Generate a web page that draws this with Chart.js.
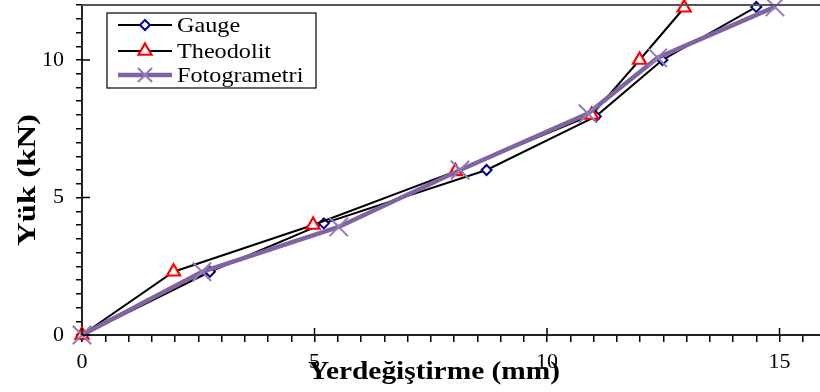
<!DOCTYPE html>
<html>
<head>
<meta charset="utf-8">
<script src="https://cdn.jsdelivr.net/npm/chart.js@4/dist/chart.umd.min.js"></script>
<style>
html,body{margin:0;padding:0;background:#fff;overflow:hidden;}
#c{display:block;}
</style>
</head>
<body>
<canvas id="c" width="820" height="392"></canvas>
<script>
const seriesNames = ['Gauge', 'Theodolit', 'Fotogrametri'];
const gaugeX = [0, 2.75, 5.2, 8.7, 11.05, 12.48, 14.5];
const gaugeY = [0, 2.3, 4.06, 6.0, 7.95, 10.0, 11.93];
const theoX = [0, 1.97, 4.97, 8.03, 10.96, 11.99, 12.95];
const theoY = [0, 2.3, 4.0, 5.95, 8.0, 10.0, 11.9];
const fotoX = [0, 2.58, 5.52, 8.13, 10.88, 12.38, 14.9];
const fotoY = [0, 2.3, 3.93, 6.0, 8.05, 10.08, 11.93];
const xTitle = 'Yerdeğiştirme (mm)';
const yTitle = 'Yük (kN)';
const xMajor = [0, 5, 10, 15];
const yMajor = [0, 5, 10];

function pts(xs, ys){ return xs.map((x,i)=>({x:x, y:ys[i]})); }

const SERIF = '"Liberation Serif", "Times New Roman", serif';

const styles = [
  {line:'#000', lw:2, ps:'rectRot', r:5, pc:'#00008B', pbg:'#fff', pw:2},
  {line:'#000', lw:2, ps:'triangle', r:7.5, pc:'#ff0000', pbg:'#fff', pw:2.2},
  {line:'#8064A2', lw:4.5, ps:'crossRot', r:13, pc:'#8f7bb8', pbg:'#8f7bb8', pw:2}
];

const decor = {
  id:'decor',
  afterDraw(chart){
    const ctx = chart.ctx, ca = chart.chartArea;
    const xs = chart.scales.x, ys = chart.scales.y;
    ctx.save();
    // top border
    ctx.strokeStyle = '#555'; ctx.lineWidth = 2;
    ctx.beginPath(); ctx.moveTo(ca.left, ca.top); ctx.lineTo(ca.right, ca.top); ctx.stroke();
    // major ticks inward
    ctx.strokeStyle = '#000'; ctx.lineWidth = 1.5;
    xMajor.forEach(v=>{ const p = xs.getPixelForValue(v); ctx.beginPath(); ctx.moveTo(p, ca.bottom); ctx.lineTo(p, ca.bottom-7); ctx.stroke(); });
    yMajor.forEach(v=>{ const p = ys.getPixelForValue(v); ctx.beginPath(); ctx.moveTo(ca.left, p); ctx.lineTo(ca.left+8, p); ctx.stroke(); });
    // titles
    ctx.fillStyle = '#000';
    ctx.textAlign = 'center'; ctx.textBaseline = 'middle';
    ctx.font = 'bold 26px ' + SERIF;
    ctx.save(); ctx.translate(434, 372); ctx.scale(1.13, 1); ctx.fillText(xTitle, 0, 0); ctx.restore();
    ctx.save(); ctx.translate(28, 180); ctx.rotate(-Math.PI/2); ctx.scale(1.26, 1); ctx.fillText(yTitle, 0, 0); ctx.restore();
    // legend
    const bx = 107, by = 13, bw = 209, bh = 75;
    ctx.fillStyle = '#fff'; ctx.fillRect(bx, by, bw, bh);
    ctx.strokeStyle = '#000'; ctx.lineWidth = 1.2; ctx.strokeRect(bx, by, bw, bh);
    const rows = [25, 51, 75];
    chart.data.datasets.forEach((ds, i)=>{
      const s = styles[i], y = rows[i];
      ctx.strokeStyle = s.line; ctx.lineWidth = s.lw;
      ctx.beginPath(); ctx.moveTo(118, y); ctx.lineTo(172, y); ctx.stroke();
      ctx.fillStyle = s.pbg; ctx.strokeStyle = s.pc; ctx.lineWidth = s.pw;
      Chart.helpers.drawPoint(ctx, {pointStyle:s.ps, radius: i===2 ? 10 : s.r, borderWidth:s.pw}, 145, y);
      ctx.fillStyle = '#000';
      ctx.font = '22px ' + SERIF; ctx.textAlign = 'left'; ctx.textBaseline = 'middle';
      ctx.save(); ctx.translate(177, y+1); ctx.scale(1.1, 1); ctx.fillText(ds.label, 0, 0); ctx.restore();
    });
    ctx.restore();
  }
};

const datasets = [pts(gaugeX,gaugeY), pts(theoX,theoY), pts(fotoX,fotoY)].map((d,i)=>{
  const s = styles[i];
  return {
    label: seriesNames[i], data: d,
    borderColor: s.line, borderWidth: s.lw, tension: 0,
    pointStyle: s.ps, pointRadius: s.r, pointHoverRadius: s.r,
    pointBorderColor: s.pc, pointBackgroundColor: s.pbg, pointBorderWidth: s.pw,
    clip: false, order: 3 - i
  };
});

new Chart(document.getElementById('c'), {
  type: 'line',
  data: { datasets },
  options: {
    responsive: false, animation: false,
    layout: { autoPadding: false, padding: { top: 5, left: 0, right: 0, bottom: 0 } },
    plugins: { legend: { display: false }, tooltip: { enabled: false } },
    scales: {
      x: {
        type: 'linear', min: 0, max: 15.87,
        afterFit(s){ s.height = 57; s.paddingLeft = 0; s.paddingRight = 0; },
        border: { display: true, color: '#222', width: 2 },
        grid: { display: true, drawOnChartArea: false, drawTicks: true, tickLength: 7, color: '#000', lineWidth: 1.5 },
        ticks: {
          stepSize: 0.5, includeBounds: false, autoSkip: false, maxRotation: 0,
          padding: 7, color: '#000', font: { family: SERIF, size: 22 },
          callback: v => (Math.abs(v % 5) < 1e-9 ? String(v) : '')
        }
      },
      y: {
        type: 'linear', min: 0, max: 12,
        afterFit(s){ s.width = 82; s.paddingTop = 0; s.paddingBottom = 0; },
        border: { display: true, color: '#222', width: 2 },
        grid: { display: true, drawOnChartArea: false, drawTicks: true, tickLength: 6, color: '#000', lineWidth: 1.5 },
        ticks: {
          stepSize: 0.5, autoSkip: false, padding: 12, color: '#000', font: { family: SERIF, size: 22 },
          callback: v => (Math.abs(v % 5) < 1e-9 ? String(v) : '')
        }
      }
    }
  },
  plugins: [decor]
});
</script>
</body>
</html>
